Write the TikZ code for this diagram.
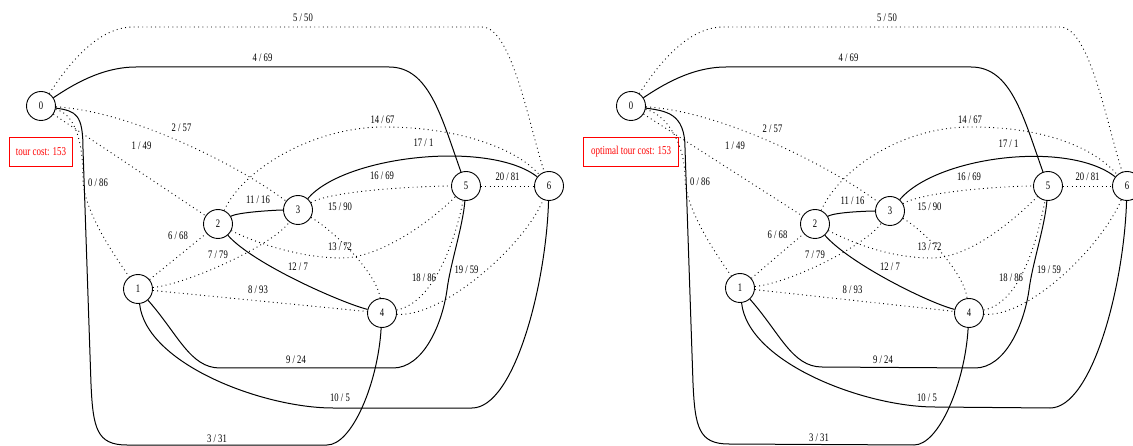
\documentclass[tikz,border=0pt]{standalone}
\usepackage{fontspec}
\setmainfont{Liberation Serif}[FakeStretch=0.75]
\usepackage{tikz}
\usetikzlibrary{calc}
\definecolor{rojo}{HTML}{FF0000}

% one drawing of the graph: #1 prefix of its nodes, #2 box width, #3 box text
\newcommand{\tourgraph}[3]{%
  \node[cost, minimum width=#2] (#1-cost) at ($(#1-0)+(0,46)$) {#3};
  % tour 0-4-2-3-6-1-5-0
  \draw[tour] (#1-0) .. controls +(35,5) and +(0,-35) .. ($(#1-1)+(-55,-140)$)
      -- ($(#1-1)+(-47,95)$) .. controls +(2,45) and +(-30,0) .. ($(#1-1)+(-11,156)$)
      -- ($(#1-4)+(-55,132)$) .. controls +(25,0) and +(-4,70) .. (#1-4);
  \draw[tour] (#1-0) .. controls +(30,-20) and +(-35,0) .. ($(#1-0)+(95,-39)$)
      -- ($(#1-5)+(-77,-119)$) .. controls +(40,0) and +(-25,-70) .. (#1-5);
  \draw[tour] (#1-1) .. controls +(40,45) and +(-30,0) .. ($(#1-1)+(82,79)$)
      -- ($(#1-5)+(-73,182)$) .. controls +(30,0) and +(-5,35) .. ($(#1-5)+(-19,104)$)
      .. controls +(3,-25) and +(-3,40) .. (#1-5);
  \draw[tour] (#1-1) .. controls +(8,75) and +(-70,0) .. ($(#1-1)+(195,119)$)
      -- ($(#1-6)+(-77,222)$) .. controls +(42,0) and +(-3,100) .. (#1-6);
  \draw[tour] (#1-2) .. controls +(20,-12) and +(-20,0) .. (#1-3);
  \draw[tour] (#1-2) .. controls +(35,40) and +(-40,-10) .. (#1-4);
  \draw[tour] (#1-3) .. controls +(47,-55) and +(-59,-46) .. (#1-6);
  % the other edges
  \draw[rest] (#1-0) .. controls +(35,8) and +(0,-35) .. ($(#1-1)+(-55,-110)$)
      .. controls +(0,30) and +(-25,-35) .. (#1-1);
  \draw[rest] (#1-0) -- (#1-2);
  \draw[rest] (#1-0) .. controls +(90,5) and +(-60,-45) .. (#1-3);
  \draw[rest] (#1-0) .. controls +(20,-30) and +(-40,0) .. ($(#1-0)+(92,-79)$)
      -- ($(#1-6)+(-67,-159)$) .. controls +(30,0) and +(-20,-60) .. (#1-6);
  \draw[rest] (#1-1) -- (#1-2);
  \draw[rest] (#1-1) .. controls +(50,-5) and +(-25,35) .. (#1-3);
  \draw[rest] (#1-1) -- (#1-4);
  \draw[rest] (#1-2) .. controls +(40,20) and +(-40,0) .. ($(#1-2)!.5!(#1-5)+(0,53)$)
      .. controls +(35,0) and +(-40,40) .. (#1-5);
  \draw[rest] (#1-2) .. controls +(25,-55) and +(-70,0) .. ($(#1-2)!.5!(#1-6)+(0,-78)$)
      .. controls +(80,0) and +(-30,-35) .. (#1-6);
  \draw[rest] (#1-3) .. controls +(35,20) and +(-5,-40) .. (#1-4);
  \draw[rest] (#1-3) .. controls +(35,-20) and +(-40,0) .. (#1-5);
  \draw[rest] (#1-4) .. controls +(50,-10) and +(-12,60) .. (#1-5);
  \draw[rest] (#1-4) .. controls +(60,5) and +(-25,60) .. (#1-6);
  \draw[rest] (#1-5) -- (#1-6);
  % weights
  \node[wt] (#1-w0) at ($(#1-1)+(-40,-106)$) {0 / 86};
  \node[wt] (#1-w1) at ($(#1-0)!.5!(#1-2)+(12,-19)$) {1 / 49};
  \node[wt] (#1-w2) at ($(#1-0)!.5!(#1-3)+(12,-30)$) {2 / 57};
  \node[wt] (#1-w3) at ($(#1-1)+(79,150)$) {3 / 31};
  \node[wt] (#1-w4) at ($(#1-0)!.5!(#1-5)+(9,-88)$) {4 / 69};
  \node[wt] (#1-w5) at ($(#1-0)!.5!(#1-6)+(8,-128)$) {5 / 50};
  \node[wt] (#1-w6) at ($(#1-1)!.5!(#1-2)+(0,-21)$) {6 / 68};
  \node[wt] (#1-w7) at ($(#1-1)!.5!(#1-3)+(0,5)$) {7 / 79};
  \node[wt] (#1-w8) at ($(#1-1)!.5!(#1-4)+(-2,-11)$) {8 / 93};
  \node[wt] (#1-w9) at ($(#1-4)+(-86,47)$) {9 / 24};
  \node[wt] (#1-w10) at ($(#1-4)+(-42,85)$) {10 / 5};
  \node[wt] (#1-w11) at ($(#1-2)!.5!(#1-3)+(0,-17)$) {11 / 16};
  \node[wt] (#1-w12) at ($(#1-2)!.5!(#1-4)+(-2,-2)$) {12 / 7};
  \node[wt] (#1-w13) at ($(#1-2)!.5!(#1-5)+(-2,42)$) {13 / 72};
  \node[wt] (#1-w14) at ($(#1-2)!.5!(#1-6)+(-1,-85)$) {14 / 67};
  \node[wt] (#1-w15) at ($(#1-3)!.5!(#1-4)+(0,-55)$) {15 / 90};
  \node[wt] (#1-w16) at ($(#1-3)!.5!(#1-5)+(0,-22)$) {16 / 69};
  \node[wt] (#1-w17) at ($(#1-3)!.5!(#1-6)+(0,-55)$) {17 / 1};
  \node[wt] (#1-w18) at ($(#1-4)+(42,-35)$) {18 / 86};
  \node[wt] (#1-w19) at ($(#1-4)!.5!(#1-6)+(1,20)$) {19 / 59};
  \node[wt] (#1-w20) at ($(#1-5)!.5!(#1-6)+(0,-9)$) {20 / 81};
}

\begin{document}
\begin{tikzpicture}[x=1pt, y=-1pt, font=\fontsize{11.5}{13}\selectfont,
      city/.style={draw, circle, line width=0.9pt, minimum size=29pt, inner sep=0pt},
      tour/.style={line width=1pt},
      rest/.style={line width=0.9pt, dash pattern=on 0.9pt off 3.4pt},
      wt/.style={inner sep=0pt},
      cost/.style={draw=rojo, text=rojo, line width=1pt, minimum height=29pt,
                   inner xsep=6pt, font=\fontsize{12}{14}\selectfont}]
    \path[fill=white, use as bounding box] (0,0) rectangle (1133,446);
    % first drawing
    \node[city] (a-0) at (41,106) {0};
    \node[city] (a-1) at (138,289) {1};
    \node[city] (a-2) at (218,224) {2};
    \node[city] (a-3) at (298,210) {3};
    \node[city] (a-4) at (382,313) {4};
    \node[city] (a-5) at (466,186) {5};
    \node[city] (a-6) at (549,186) {6};
    \tourgraph{a}{63pt}{tour cost: 153}
    % second drawing
    \node[city] (b-0) at (631,106) {0};
    \node[city] (b-1) at (740,288) {1};
    \node[city] (b-2) at (815,224) {2};
    \node[city] (b-3) at (890,211) {3};
    \node[city] (b-4) at (969,313) {4};
    \node[city] (b-5) at (1048,186) {5};
    \node[city] (b-6) at (1127,186) {6};
    \tourgraph{b}{95pt}{optimal tour cost: 153}
\end{tikzpicture}
\end{document}
